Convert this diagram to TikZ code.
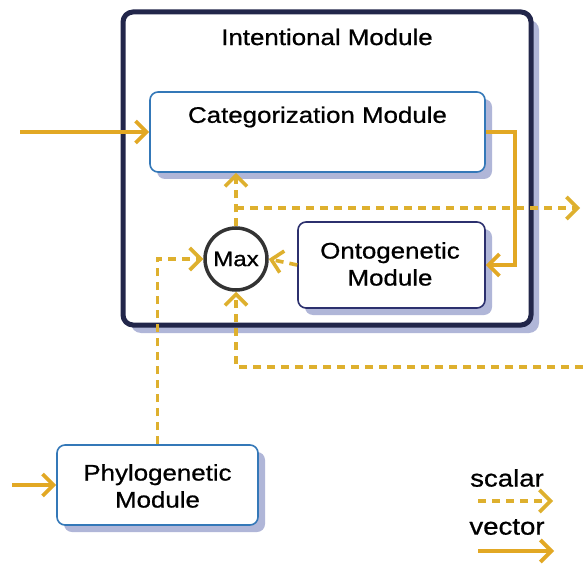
\documentclass[tikz,border=0pt]{standalone}
\usepackage{fontspec}
\setmainfont{Liberation Sans}[FakeStretch=1.15,FakeBold=0.8]
\usetikzlibrary{arrows.meta,shadows}
\definecolor{gold}{RGB}{226,168,36}
\definecolor{sgold}{RGB}{222,176,46}
\definecolor{navy}{RGB}{34,38,74}
\definecolor{boxblue}{RGB}{52,120,184}
\definecolor{ontoblue}{RGB}{44,48,110}
\definecolor{shade}{RGB}{176,182,216}
\tikzset{
  x=1pt, y=-1pt,
  txt/.style={inner sep=0pt, align=center, font=\fontsize{22.5}{27}\selectfont},
  smalltxt/.style={inner sep=0pt, font=\fontsize{21}{24}\selectfont},
  legtxt/.style={inner sep=0pt, font=\fontsize{24}{28}\selectfont},
  boxshadow/.style={drop shadow={shadow xshift=7pt, shadow yshift=-7pt, fill=shade, opacity=1}},
  modbox/.style={draw=boxblue, line width=1.6pt, fill=white, rounded corners=8pt, boxshadow},
  tip/.style={-{Straight Barb[length=11pt,width=22pt]}},
  vector/.style={draw=gold, line width=3.8pt, tip},
  scalar/.style={draw=sgold, line width=3.6pt, dash pattern=on 8pt off 6pt, tip},
}
\begin{document}
\begin{tikzpicture}
\useasboundingbox[fill=white] (0,0) rectangle (583,564);

% outer intentional module
\node[draw=navy, line width=5pt, fill=white, rounded corners=10pt,
      minimum width=408, minimum height=313, inner sep=0pt,
      drop shadow={shadow xshift=8pt, shadow yshift=-8pt, fill=shade, opacity=1}]
      (intent) at (327,168.5) {};
\node[txt] (intentlabel) at (327,37) {Intentional Module};

% inner modules
\node[modbox, minimum width=335, minimum height=80, inner sep=0pt] (cat) at (317.5,132) {};
\node[txt] (catlabel) at (317.5,117) {Categorization Module};

\node[modbox, draw=ontoblue, minimum width=187, minimum height=86, inner sep=0pt] (onto) at (391.5,265) {};
\node[txt] (ontolabel) at (390,264) {Ontogenetic\\Module};

\node[circle, draw=black!80, line width=3.5pt, fill=white, minimum size=62, inner sep=0pt] (max) at (236,259) {};
\node[smalltxt] (maxlabel) at (236,259) {Max};

\node[modbox, minimum width=201, minimum height=80, inner sep=0pt] (phylo) at (157.5,485) {};
\node[txt] (phylolabel) at (157.5,486) {Phylogenetic\\Module};

% free ends of connectors
\coordinate (inCat) at (20,132);
\coordinate (inPhylo) at (12,485);
\coordinate (bend) at (515,200);
\coordinate (split) at (236,208);
\coordinate (outR) at (580,208);
\coordinate (inR) at (583,367);

% vector connections
\draw[vector] (inCat) -- (cat.west);
\draw[vector] (inPhylo) -- (phylo.west);
\draw[vector] (cat.east) -| (bend) |- (onto.east);

% scalar connections
\draw[scalar] (onto.west) -- (max.east);
\draw[scalar] (max.north) -- (max |- cat.south);
\draw[scalar] (split) -- (outR);
\draw[scalar] (phylo.north) |- (max.west);
\draw[scalar] (inR) -| (max.south);

% legend
\node[legtxt] (scalarlabel) at (507,478) {scalar};
\coordinate (sA) at (478,501);
\coordinate (sB) at (553,501);
\draw[scalar] (sA) -- (sB);
\node[legtxt] (vectorlabel) at (507,527) {vector};
\coordinate (vA) at (478,551);
\coordinate (vB) at (554,551);
\draw[vector] (vA) -- (vB);
\end{tikzpicture}
\end{document}
